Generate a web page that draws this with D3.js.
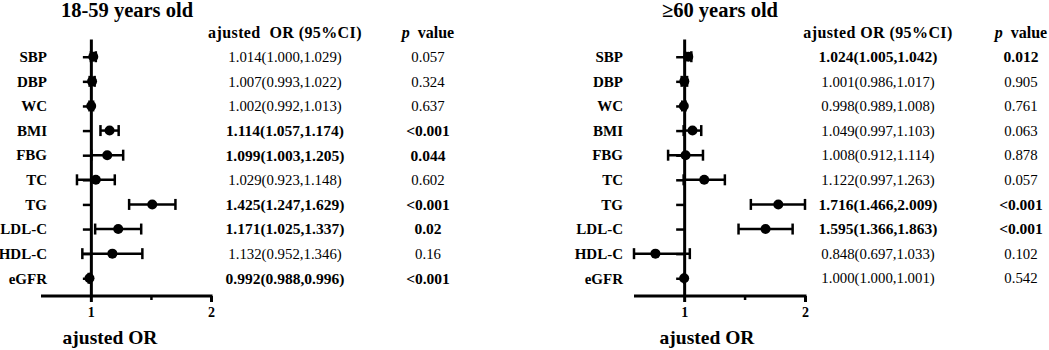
<!DOCTYPE html>
<html>
<head>
<meta charset="utf-8">
<script src="https://cdn.jsdelivr.net/npm/d3@7"></script>
<style>
  body { margin: 0; background: #fff; }
  svg text { font-family: "Liberation Serif", "Times New Roman", serif; fill: #000; }
</style>
</head>
<body>
<div id="chart"></div>
<script>
const categories = ["SBP", "DBP", "WC", "BMI", "FBG", "TC", "TG", "LDL-C", "HDL-C", "eGFR"];

// 18-59 years old
const orYoung = [1.014, 1.007, 1.002, 1.114, 1.099, 1.029, 1.425, 1.171, 1.132, 0.992];
const loYoung = [1.000, 0.993, 0.992, 1.057, 1.003, 0.923, 1.247, 1.025, 0.952, 0.988];
const hiYoung = [1.029, 1.022, 1.013, 1.174, 1.205, 1.148, 1.629, 1.337, 1.346, 0.996];
const pYoung = ["0.057", "0.324", "0.637", "<0.001", "0.044", "0.602", "<0.001", "0.02", "0.16", "<0.001"];
const sigYoung = [false, false, false, true, true, false, true, true, false, true];

// >=60 years old
const orOld = [1.024, 1.001, 0.998, 1.049, 1.008, 1.122, 1.716, 1.595, 0.848, 1.000];
const loOld = [1.005, 0.986, 0.989, 0.997, 0.912, 0.997, 1.466, 1.366, 0.697, 1.000];
const hiOld = [1.042, 1.017, 1.008, 1.103, 1.114, 1.263, 2.009, 1.863, 1.033, 1.001];
const pOld = ["0.012", "0.905", "0.761", "0.063", "0.878", "0.057", "<0.001", "<0.001", "0.102", "0.542"];
const sigOld = [true, false, false, false, false, false, true, true, false, false];

const xTicks = [1, 2];
const xMinor = [Math.SQRT2];

const width = 1049, height = 350;
const fmt = d3.format(".3f");

const svg = d3.select("#chart").append("svg")
  .attr("width", width)
  .attr("height", height);

function drawPanel(p) {
  const data = categories.map((c, i) => ({
    name: c, or: p.or[i], lo: p.lo[i], hi: p.hi[i], pv: p.pv[i], sig: p.sig[i]
  }));

  const x = d3.scaleLog().base(2).domain([0.75, 2]).range(p.xRange).clamp(true);
  const y = d3.scalePoint().domain(categories).range([39, 296]).padding(0.72);
  const g = svg.append("g");

  // title
  g.append("text")
    .attr("x", p.titleX).attr("y", 17)
    .attr("text-anchor", "middle")
    .style("font-size", "20.5px").style("font-weight", "bold")
    .text(p.title);

  // x axis
  const xAxis = g.append("g")
    .attr("transform", "translate(0,296)")
    .call(d3.axisBottom(x).tickValues(xTicks).tickFormat(d3.format("d")).tickSize(6).tickSizeOuter(0).tickPadding(5));
  xAxis.select(".domain").attr("stroke-width", 3).attr("d", "M" + p.xRange[0] + ",0H" + (p.xRange[1] + 1.5));
  xAxis.selectAll(".tick line").attr("stroke-width", 3);
  xAxis.selectAll(".tick text")
    .style("font-family", "Liberation Serif, serif")
    .style("font-size", "14px").style("font-weight", "bold");

  const xMinorAxis = g.append("g")
    .attr("transform", "translate(0,296)")
    .call(d3.axisBottom(x).tickValues(xMinor).tickFormat("").tickSize(4).tickSizeOuter(0));
  xMinorAxis.select(".domain").remove();
  xMinorAxis.selectAll(".tick line").attr("stroke-width", 2.5);

  // y axis at OR = 1
  const yAxis = g.append("g")
    .attr("transform", "translate(" + x(1) + ",0)")
    .call(d3.axisLeft(y).tickFormat("").tickSize(8).tickSizeOuter(0));
  yAxis.select(".domain").attr("stroke-width", 3);
  yAxis.selectAll(".tick line").attr("stroke-width", 2.5);

  g.append("text")
    .attr("x", p.xLabelX).attr("y", 344)
    .attr("text-anchor", "middle")
    .style("font-size", "19.5px").style("font-weight", "bold")
    .text("ajusted OR");

  // category labels
  g.selectAll(".cat").data(data).enter().append("text")
    .attr("class", "cat")
    .attr("x", p.catX)
    .attr("y", d => y(d.name))
    .attr("dy", "0.35em")
    .attr("text-anchor", "end")
    .style("font-size", "15px").style("font-weight", "bold")
    .text(d => d.name);

  // CI whiskers
  const ci = g.selectAll(".ci").data(data).enter().append("g").attr("class", "ci");
  ci.append("line")
    .attr("x1", d => x(d.lo)).attr("x2", d => x(d.hi))
    .attr("y1", d => y(d.name)).attr("y2", d => y(d.name))
    .attr("stroke", "#000").attr("stroke-width", 2.5);
  ci.append("line")
    .attr("x1", d => x(d.lo)).attr("x2", d => x(d.lo))
    .attr("y1", d => y(d.name) - 5.5).attr("y2", d => y(d.name) + 5.5)
    .attr("stroke", "#000").attr("stroke-width", 2.5);
  ci.append("line")
    .attr("x1", d => x(d.hi)).attr("x2", d => x(d.hi))
    .attr("y1", d => y(d.name) - 5.5).attr("y2", d => y(d.name) + 5.5)
    .attr("stroke", "#000").attr("stroke-width", 2.5);
  ci.append("circle")
    .attr("cx", d => x(d.or)).attr("cy", d => y(d.name))
    .attr("r", 5)
    .attr("fill", "#000");

  // table headers
  g.append("text")
    .attr("x", p.orX).attr("y", 38)
    .attr("text-anchor", "middle")
    .style("font-size", "16px").style("font-weight", "bold")
    .style("letter-spacing", "0.4px")
    .attr("xml:space", "preserve")
    .text(p.header);
  const ph = g.append("text")
    .attr("x", p.pX).attr("y", 38)
    .attr("text-anchor", "middle")
    .attr("xml:space", "preserve")
    .style("font-size", "16px").style("font-weight", "bold");
  ph.append("tspan").style("font-style", "italic").text("p");
  ph.append("tspan").text("  value");

  // table rows
  g.selectAll(".orTxt").data(data).enter().append("text")
    .attr("class", "orTxt")
    .attr("x", p.orX)
    .attr("y", d => y(d.name))
    .attr("dy", "0.35em")
    .attr("text-anchor", "middle")
    .style("font-size", d => d.sig ? "15.5px" : "14.8px")
    .style("font-weight", d => d.sig ? "bold" : "normal")
    .text(d => fmt(d.or) + "(" + fmt(d.lo) + "," + fmt(d.hi) + ")");

  g.selectAll(".pTxt").data(data).enter().append("text")
    .attr("class", "pTxt")
    .attr("x", p.pX)
    .attr("y", d => y(d.name))
    .attr("dy", "0.35em")
    .attr("text-anchor", "middle")
    .style("font-size", d => d.sig ? "15.5px" : "14.8px")
    .style("font-weight", d => d.sig ? "bold" : "normal")
    .text(d => d.pv);
}

drawPanel({
  title: "18-59 years old", titleX: 127,
  header: "ajusted  OR (95%CI)",
  or: orYoung, lo: loYoung, hi: hiYoung, pv: pYoung, sig: sigYoung,
  xRange: [41, 211], catX: 47, xLabelX: 110, orX: 285, pX: 428
});

drawPanel({
  title: "≥60 years old", titleX: 720,
  header: "ajusted OR (95%CI)",
  or: orOld, lo: loOld, hi: hiOld, pv: pOld, sig: sigOld,
  xRange: [634, 805], catX: 623, xLabelX: 707, orX: 878, pX: 1021
});
</script>
</body>
</html>
